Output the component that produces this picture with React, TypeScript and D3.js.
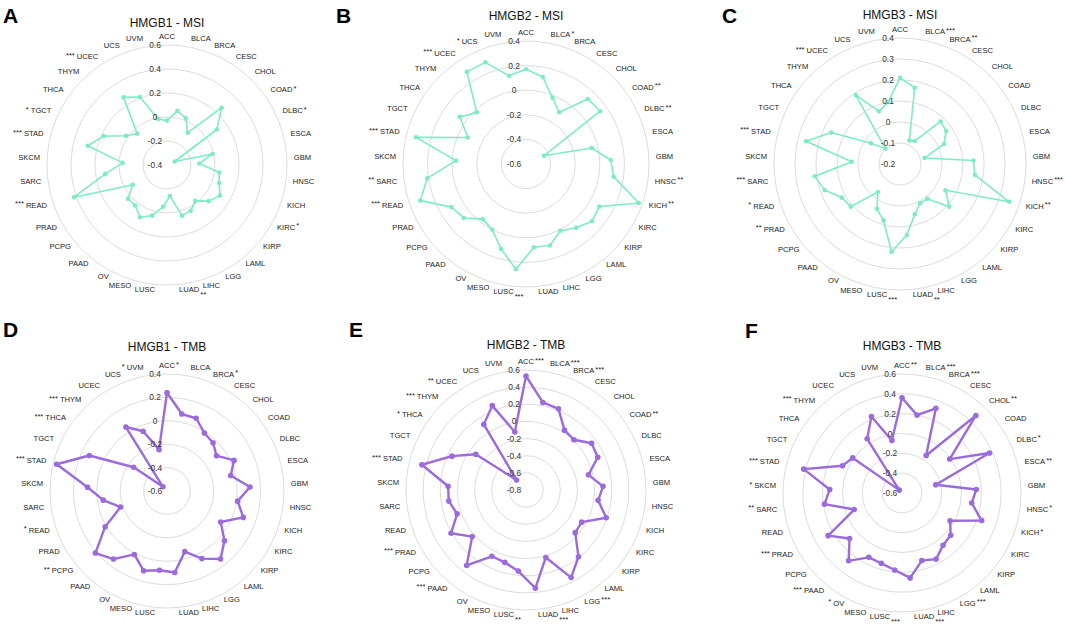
import React from "react";
import * as d3 from "d3";

const CATS = ["ACC","BLCA","BRCA","CESC","CHOL","COAD","DLBC","ESCA","GBM","HNSC","KICH","KIRC","KIRP","LAML","LGG","LIHC","LUAD","LUSC","MESO","OV","PAAD","PCPG","PRAD","READ","SARC","SKCM","STAD","TGCT","THCA","THYM","UCEC","UCS","UVM"];

const HMGB1_MSI = [-0.03,0.06,0.02,-0.08,0.26,0.11,-0.33,-0.01,-0.13,0.04,0.06,0.11,0.06,-0.02,0.03,0.04,-0.14,-0.05,0.04,0.09,0.03,0.03,-0.07,0.42,0.12,-0.03,0.28,0.18,0.02,-0.04,0.27,0.21,-0.01];
const HMGB2_MSI = [0.17,0.12,-0.02,-0.10,0.13,0.14,-0.44,-0.05,0.09,0.12,0.37,0.09,0.11,0.06,0.01,0.09,0.08,0.26,0.12,0.0,-0.03,0.07,0.10,0.31,0.21,-0.03,0.32,-0.08,0.06,-0.02,0.29,0.29,0.13];
const HMGB3_MSI = [0.21,0.17,-0.08,-0.07,0.08,0.07,0.03,-0.08,0.15,0.16,0.35,0.05,0.11,0.01,0.01,0.05,0.14,0.22,0.08,0.04,-0.03,0.11,0.12,0.18,0.21,0.03,0.26,0.16,-0.03,-0.10,0.19,0.07,0.10];
const HMGB1_TMB = [0.24,0.07,0.07,-0.01,-0.03,-0.08,0.03,-0.04,0.11,0.01,0.09,-0.07,0.05,0.14,0.05,-0.06,0.10,0.08,0.11,0.01,0.14,0.21,0.01,-0.18,-0.05,0.08,0.37,0.13,-0.25,-0.55,0.05,-0.05,-0.24];
const HMGB2_TMB = [0.53,0.24,0.22,0.03,0.01,0.14,0.12,-0.05,0.10,0.05,0.19,-0.05,-0.04,0.19,0.35,0.02,0.35,0.15,0.08,0.07,0.32,0.03,0.21,0.05,0.11,0.11,0.45,0.15,-0.08,-0.64,0.11,0.26,-0.11];
const HMGB3_TMB = [0.36,0.20,0.32,-0.15,0.48,-0.01,0.37,-0.25,0.15,0.11,0.25,-0.04,0.05,0.07,0.15,0.11,0.26,0.18,0.14,0.13,0.27,0.10,0.26,-0.09,0.19,0.13,0.42,0.06,0.01,-0.56,0.05,0.23,-0.06];

const SIG_HMGB1_MSI: Record<string, string> = { COAD: "*", DLBC: "*", KIRC: "*", LUAD: "**", READ: "***", STAD: "***", TGCT: "*", UCEC: "***" };
const SIG_HMGB2_MSI: Record<string, string> = { BLCA: "*", COAD: "**", DLBC: "**", HNSC: "**", KICH: "**", LUSC: "***", SARC: "**", READ: "***", STAD: "***", UCEC: "***", UCS: "*" };
const SIG_HMGB3_MSI: Record<string, string> = { BLCA: "***", BRCA: "**", HNSC: "***", KICH: "**", LUAD: "**", LUSC: "***", PRAD: "**", READ: "*", SARC: "***", STAD: "***", UCEC: "***" };
const SIG_HMGB1_TMB: Record<string, string> = { ACC: "*", BRCA: "*", PCPG: "**", READ: "*", STAD: "***", THCA: "***", THYM: "***", UVM: "*" };
const SIG_HMGB2_TMB: Record<string, string> = { ACC: "***", BLCA: "***", BRCA: "***", COAD: "**", LGG: "***", LUAD: "***", LUSC: "**", PAAD: "***", PRAD: "***", STAD: "***", THCA: "*", THYM: "***", UCEC: "**" };
const SIG_HMGB3_TMB: Record<string, string> = { ACC: "**", BLCA: "***", BRCA: "***", CHOL: "**", DLBC: "*", ESCA: "**", HNSC: "*", KICH: "*", LGG: "***", LUAD: "***", LUSC: "***", OV: "*", PAAD: "***", PRAD: "***", SARC: "**", SKCM: "*", STAD: "***", THYM: "***" };

const MSI_COLOR = "#7EEBC6";
const TMB_COLOR = "#9B6BDD";
const FONT = '"Liberation Sans", Arial, sans-serif';

type Panel = {
  letter: string; title: string; values: number[]; sig: Record<string, string>;
  min: number; max: number; step: number;
  cx: number; cy: number; R: number; color: string; lw: number; pr: number;
  lx: number; ly: number; ty: number;
};

const PANELS: Panel[] = [
  { letter: "A", title: "HMGB1 - MSI", values: HMGB1_MSI, sig: SIG_HMGB1_MSI, min: -0.4, max: 0.6, step: 0.2, cx: 167, cy: 165, R: 120, color: MSI_COLOR, lw: 1.6, pr: 2.3, lx: 3, ly: 23, ty: 23 },
  { letter: "B", title: "HMGB2 - MSI", values: HMGB2_MSI, sig: SIG_HMGB2_MSI, min: -0.6, max: 0.4, step: 0.2, cx: 526, cy: 164, R: 123, color: MSI_COLOR, lw: 1.6, pr: 2.3, lx: 336, ly: 23, ty: 16 },
  { letter: "C", title: "HMGB3 - MSI", values: HMGB3_MSI, sig: SIG_HMGB3_MSI, min: -0.2, max: 0.4, step: 0.1, cx: 900, cy: 164, R: 126, color: MSI_COLOR, lw: 1.6, pr: 2.3, lx: 722, ly: 23, ty: 15 },
  { letter: "D", title: "HMGB1 - TMB", values: HMGB1_TMB, sig: SIG_HMGB1_TMB, min: -0.6, max: 0.4, step: 0.2, cx: 167, cy: 491, R: 117, color: TMB_COLOR, lw: 2.4, pr: 2.8, lx: 3, ly: 337, ty: 347 },
  { letter: "E", title: "HMGB2 - TMB", values: HMGB2_TMB, sig: SIG_HMGB2_TMB, min: -0.8, max: 0.6, step: 0.2, cx: 526, cy: 490, R: 120, color: TMB_COLOR, lw: 2.4, pr: 2.8, lx: 349, ly: 337, ty: 345 },
  { letter: "F", title: "HMGB3 - TMB", values: HMGB3_TMB, sig: SIG_HMGB3_TMB, min: -0.6, max: 0.6, step: 0.2, cx: 902, cy: 493, R: 119, color: TMB_COLOR, lw: 2.4, pr: 2.8, lx: 745, ly: 338, ty: 346 },
];

const LABEL_FS = 7.6;
const TICK_FS = 8.4;

let ctx: CanvasRenderingContext2D | null = null;
function measure(text: string, fs: number): number {
  if (!ctx) {
    const c = document.createElement("canvas");
    ctx = c.getContext("2d");
  }
  if (!ctx) return text.length * fs * 0.6;
  ctx.font = `${fs}px "Liberation Sans", Arial, sans-serif`;
  return ctx.measureText(text).width;
}

function fmt(v: number): string {
  const r = Math.round(v * 100) / 100;
  return String(r);
}

function Radar({ p }: { p: Panel }) {
  const n = CATS.length;
  const rScale = d3.scaleLinear().domain([p.min, p.max]).range([0, p.R]);
  const nSteps = Math.round((p.max - p.min) / p.step);
  const ticks = d3.range(0, nSteps + 1).map((k) => Math.round((p.min + k * p.step) * 100) / 100);
  const ang = (i: number) => (i * 2 * Math.PI) / n;
  const line = d3
    .lineRadial<number>()
    .angle((_, i) => ang(i))
    .radius((d) => rScale(d))
    .curve(d3.curveLinearClosed);

  const labelR = p.R + 7;
  return (
    <g>
      <text x={p.lx} y={p.ly} fontFamily={FONT} fontWeight="bold" fontSize={21} fill="#000">{p.letter}</text>
      <text x={p.cx} y={p.ty} fontFamily={FONT} fontSize={12} fill="#111" textAnchor="middle" dominantBaseline="central">{p.title}</text>
      <g transform={`translate(${p.cx},${p.cy})`}>
        {ticks.slice(1).map((t) => (
          <circle key={t} r={rScale(t)} fill="none" stroke="#DCDCDC" strokeWidth={1} />
        ))}
        <path d={line(p.values) || ""} fill="none" stroke={p.color} strokeWidth={p.lw} strokeLinejoin="round" />
        {p.values.map((v, i) => (
          <circle key={i} cx={rScale(v) * Math.sin(ang(i))} cy={-rScale(v) * Math.cos(ang(i))} r={p.pr} fill={p.color} />
        ))}
        {ticks.map((t) => (
          <text key={"t" + t} x={-12} y={-rScale(t)} fontFamily={FONT} fontSize={TICK_FS} fill="#333" textAnchor="middle" dominantBaseline="central">{fmt(t)}</text>
        ))}
        {CATS.map((c, i) => {
          const a = ang(i);
          const s = Math.sin(a);
          const co = Math.cos(a);
          const x = labelR * s;
          const y = -labelR * co - 1.5;
          const anchor = Math.abs(s) < 0.01 ? "middle" : s > 0 ? "start" : "end";
          const w = measure(c, LABEL_FS);
          const left = anchor === "middle" ? x - w / 2 : anchor === "start" ? x : x - w;
          const right = left + w;
          const star = p.sig[c];
          let starEl = null;
          if (star) {
            const bottom = Math.abs(a - Math.PI) < 0.2;
            if (bottom) {
              starEl = <text x={right + 1} y={y + 4.5} fontFamily={FONT} fontSize={LABEL_FS} fill="#222" textAnchor="start" dominantBaseline="central">{star}</text>;
            } else if (s >= 0) {
              starEl = <text x={right + 1} y={y - 1.5} fontFamily={FONT} fontSize={LABEL_FS} fill="#222" textAnchor="start" dominantBaseline="central">{star}</text>;
            } else {
              starEl = <text x={left - 2} y={y - 1.5} fontFamily={FONT} fontSize={LABEL_FS} fill="#222" textAnchor="end" dominantBaseline="central">{star}</text>;
            }
          }
          return (
            <g key={c}>
              <text x={x} y={y} fontFamily={FONT} fontSize={LABEL_FS} fill="#222" textAnchor={anchor} dominantBaseline="central">{c}</text>
              {starEl}
            </g>
          );
        })}
      </g>
    </g>
  );
}

export default function App() {
  return (
    <svg width={1065} height={626} style={{ position: "absolute", left: 0, top: 0, background: "#fff" }}>
      <rect width={1065} height={626} fill="#fff" />
      {PANELS.map((p) => (
        <Radar key={p.letter} p={p} />
      ))}
    </svg>
  );
}
